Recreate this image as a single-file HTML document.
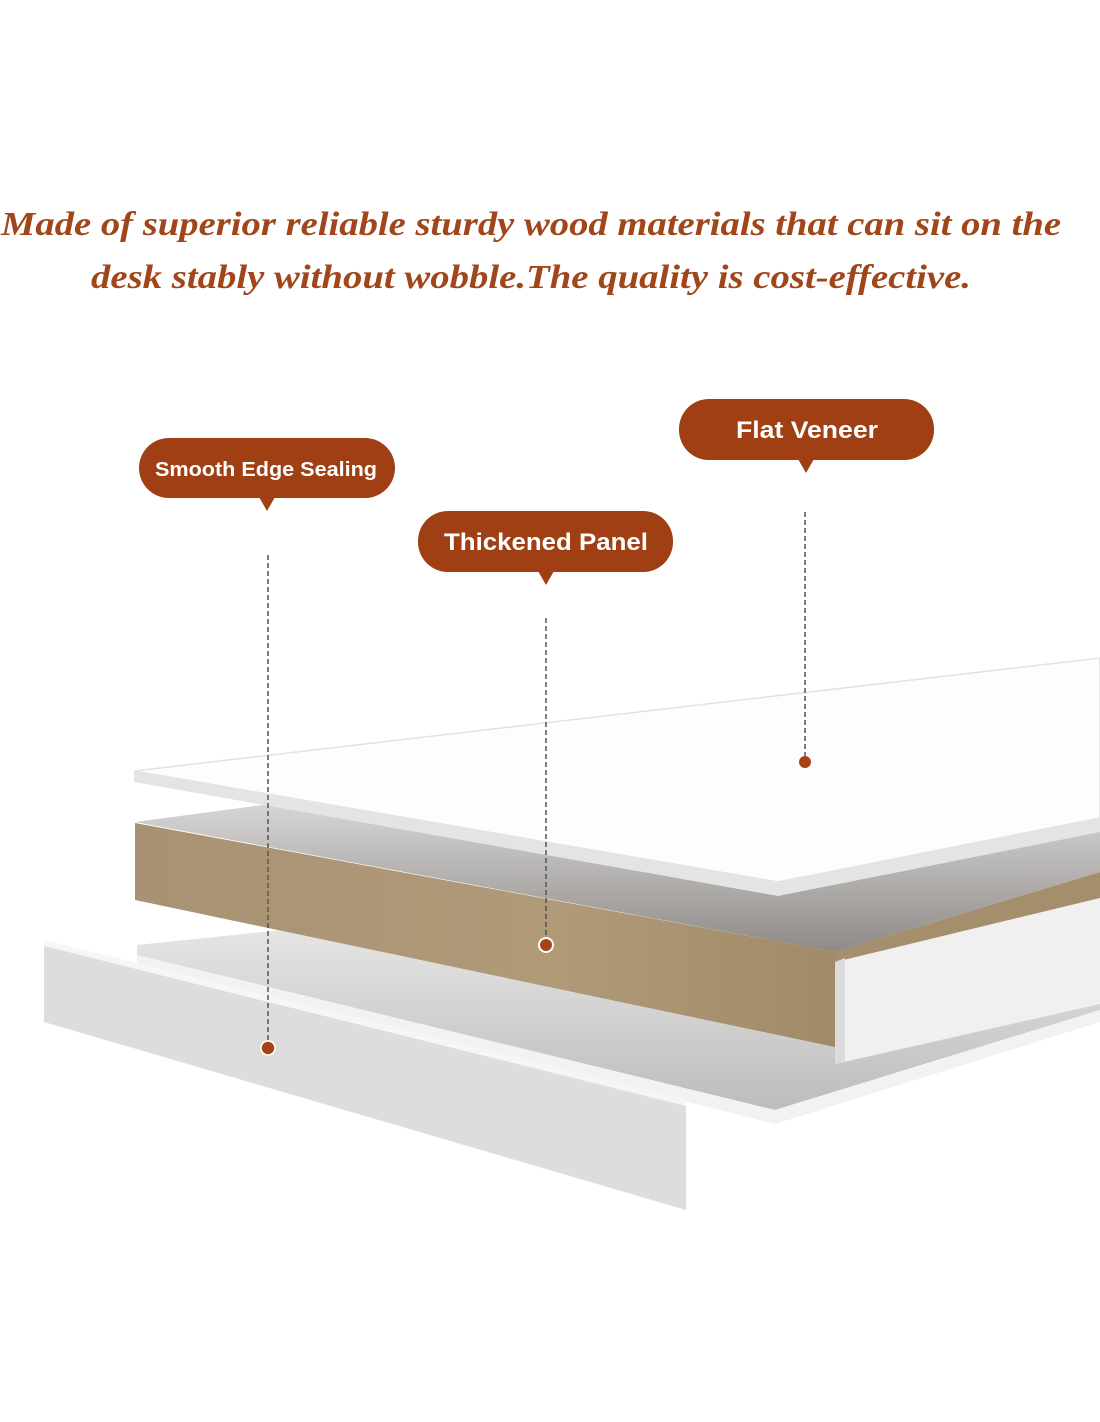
<!DOCTYPE html>
<html><head><meta charset="utf-8"><style>
html,body{margin:0;padding:0;background:#fff;}
svg{display:block;}
</style></head><body>
<svg width="1100" height="1422" viewBox="0 0 1100 1422" xmlns="http://www.w3.org/2000/svg">
<defs>
<linearGradient id="shadow" x1="0" y1="0" x2="0" y2="1">
<stop offset="0" stop-color="#d8d8d8"/><stop offset="1" stop-color="#8f8a86"/>
</linearGradient>
<linearGradient id="tan" x1="0" y1="0" x2="1" y2="0">
<stop offset="0" stop-color="#a89273"/><stop offset="0.6" stop-color="#b09a78"/><stop offset="1" stop-color="#a08a68"/>
</linearGradient>
<linearGradient id="bot" x1="0" y1="0" x2="0" y2="1">
<stop offset="0" stop-color="#e6e6e6"/><stop offset="1" stop-color="#bdbcbb"/>
</linearGradient>
</defs>

<text x="531" y="235" text-anchor="middle" font-family="Liberation Serif, serif" font-weight="bold" font-style="italic" font-size="34" fill="#a0461a" textLength="1060" lengthAdjust="spacingAndGlyphs">Made of superior reliable sturdy wood materials that can sit on the</text>
<text x="531" y="288" text-anchor="middle" font-family="Liberation Serif, serif" font-weight="bold" font-style="italic" font-size="34" fill="#a0461a" textLength="880" lengthAdjust="spacingAndGlyphs">desk stably without wobble.The quality is cost-effective.</text>

<!-- bottom sheet -->
<polygon points="137,945 330,925 1100,930 1100,1010 775,1110 137,955" fill="url(#bot)"/>
<polygon points="137,955 775,1110 1100,1010 1100,1022 775,1124 137,963" fill="#f2f2f2"/>

<!-- shadow between veneer and MDF -->
<polygon points="135,822 300,800 1100,800 1100,872 835,952" fill="url(#shadow)"/>
<!-- MDF -->
<polygon points="135,823 835,952 835,1047 135,900" fill="url(#tan)"/>
<polygon points="835,952 1100,872 1100,985 835,1047" fill="#a48e6c"/>

<!-- right edge strip -->
<polygon points="835,962 1100,898 1100,1004 835,1064" fill="#f0f0f0"/>
<polygon points="835,962 845,958 845,1062 835,1064" fill="#dcdcdc"/>

<!-- top veneer -->
<polygon points="134,771 1100,658 1100,818 778,882" fill="#fdfdfd" stroke="#e2e2e2" stroke-width="1.5"/>
<polygon points="134,771 778,882 1100,818 1100,832 778,896 134,782" fill="#e4e4e4"/>

<!-- left edge strip -->
<polygon points="44,940 686,1100 686,1106 44,946" fill="#f6f6f6"/>
<polygon points="44,946 686,1106 686,1210 44,1022" fill="#dddddd"/>

<!-- dashed lines -->
<g stroke="#555" stroke-width="1.5" stroke-dasharray="5,3">
<line x1="268" y1="555" x2="268" y2="1042"/>
<line x1="546" y1="618" x2="546" y2="938"/>
<line x1="805" y1="512" x2="805" y2="756"/>
</g>
<circle cx="268" cy="1048" r="7" fill="#a84318" stroke="#fff" stroke-width="1.5"/>
<circle cx="546" cy="945" r="7" fill="#a84318" stroke="#fff" stroke-width="2"/>
<circle cx="805" cy="762" r="6" fill="#a84318"/>

<!-- bubbles -->
<g fill="#9f3f13">
<rect x="139" y="438" width="256" height="60" rx="30"/><polygon points="259,497 275,497 267,511"/>
<rect x="418" y="511" width="255" height="61" rx="30"/><polygon points="538,571 554,571 546,585"/>
<rect x="679" y="399" width="255" height="61" rx="30"/><polygon points="798,459 814,459 806,473"/>
</g>
<g fill="#fff" font-family="Liberation Sans, sans-serif" text-anchor="middle" font-weight="bold">
<text x="266" y="476" font-size="20" textLength="222" lengthAdjust="spacingAndGlyphs">Smooth Edge Sealing</text>
<text x="546" y="550" font-size="24" textLength="204" lengthAdjust="spacingAndGlyphs">Thickened Panel</text>
<text x="807" y="438" font-size="24" textLength="142" lengthAdjust="spacingAndGlyphs">Flat Veneer</text>
</g>
</svg>
</body></html>
